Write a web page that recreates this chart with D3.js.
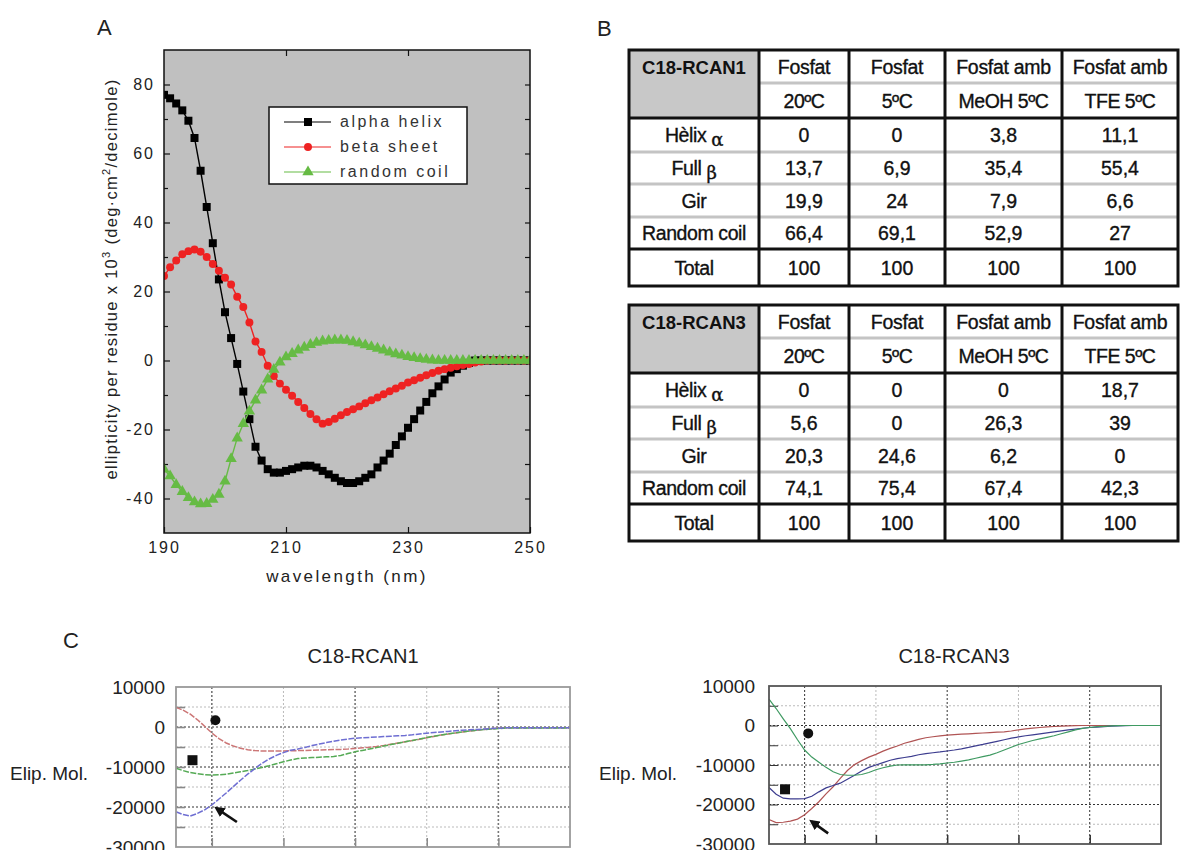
<!DOCTYPE html>
<meta charset="utf-8">
<head>
<script src="https://d3js.org/d3.v7.min.js"></script>
<style>
  body { margin: 0; background: #fff; }
  svg text { font-family: "Liberation Sans", Arial, sans-serif; }
</style>
</head>
<body>
<svg id="fig" width="1180" height="850"></svg>
<script>
// ---------- panel A : reference CD spectra (x10^3) ----------
const wlA = d3.range(190, 251);
const alphaHelix = [77,76,74.5,72.5,69.5,64.5,55,44.5,34,23.5,14,6.5,-1,-9,-17,-25,-29,-31.5,-32.5,-32.5,
  -32,-31.5,-31,-30.5,-30.5,-31,-32,-33,-34,-35,-35.5,-35.5,-35,-34,-33,-31,-29,-27,-24.5,-22,
  -19.5,-17,-14.5,-12,-9.5,-7.5,-5.5,-3.5,-2.5,-1.5,-0.7,0,0,0,0,0,0,0,0,0,0];
const betaSheet = [24.5,27,29,30.8,31.7,32.2,31.5,30,28,26,24,22,18.5,15.5,11,5.5,2.5,-1.5,-4.5,-6.7,
  -8.5,-10.2,-12,-13.8,-15.5,-17,-18.3,-17.8,-16.9,-15.9,-14.9,-14.1,-13.3,-12.4,-11.5,-10.7,-9.8,-8.9,-8.1,-7.3,
  -6.4,-5.7,-5,-4.3,-3.6,-3,-2.5,-2.1,-1.7,-1.3,-1,-0.6,-0.3,0,0,0,0,0,0,0,0];
const randomCoil = [-31.5,-33.5,-36,-38,-39.8,-41,-41.6,-41.5,-40.3,-38.8,-35,-28.5,-22.5,-18.3,-14.7,-11.5,-8.6,-5.4,-2.6,-0.5,
  1,2,3,3.8,4.6,5.2,5.6,5.8,5.9,5.9,5.8,5.4,5,4.5,4,3.5,3,2.4,1.9,1.5,
  1.1,0.8,0.5,0.3,0.1,0,0,0,0,0,0,0,0,0,0,0,0,0,0,0,0];
const seriesNames = ["alpha helix", "beta sheet", "random coil"];
const yTicksA = [-40, -20, 0, 20, 40, 60, 80];
const xTicksA = [190, 210, 230, 250];

// ---------- panel B : secondary structure tables ----------
const colHead1 = ["Fosfat", "Fosfat", "Fosfat amb", "Fosfat amb"];
const colHead2 = ["20ºC", "5ºC", "MeOH 5ºC", "TFE 5ºC"];
const rowLabels = [["Hèlix ", "α"], ["Full ", "β"], ["Gir", ""], ["Random coil", ""], ["Total", ""]];
const rcan1Table = [["0","0","3,8","11,1"], ["13,7","6,9","35,4","55,4"], ["19,9","24","7,9","6,6"],
  ["66,4","69,1","52,9","27"], ["100","100","100","100"]];
const rcan3Table = [["0","0","0","18,7"], ["5,6","0","26,3","39"], ["20,3","24,6","6,2","0"],
  ["74,1","75,4","67,4","42,3"], ["100","100","100","100"]];

// ---------- panel C : measured spectra ----------
const wlC = d3.range(195, 251);
const rcan1Red = [4900,4200,3200,1800,200,-1500,-2900,-4000,-4750,-5300,-5700,-5900,-6000,-6000,-6000,-6000,-5950,-5900,-5850,-5800,
  -5750,-5700,-5650,-5600,-5500,-5350,-5200,-5050,-4850,-4600,-4300,-4000,-3700,-3400,-3050,-2700,-2350,-2000,-1750,-1500,
  -1250,-1000,-800,-600,-450,-300,-200,-200,-200,-200,-200,-200,-200,-200,-200,-200];
const rcan1Green = [-10300,-10900,-11400,-11700,-11900,-12000,-11950,-11800,-11500,-11200,-10900,-10500,-10100,-9700,-9200,-8700,-8250,-7900,-7750,-7650,
  -7550,-7450,-7400,-7100,-6650,-6200,-5850,-5500,-5150,-4750,-4400,-4050,-3700,-3350,-3000,-2650,-2300,-2000,-1700,-1450,
  -1200,-1000,-800,-650,-500,-400,-250,-250,-250,-250,-250,-250,-250,-250,-250,-250];
const rcan1Blue = [-21200,-21900,-22250,-21600,-20700,-19500,-18000,-16500,-14900,-13300,-11800,-10400,-9100,-8000,-7100,-6400,-5800,-5500,-5100,-4650,
  -4250,-3900,-3550,-3250,-3000,-2800,-2700,-2600,-2500,-2400,-2300,-2200,-2100,-1950,-1750,-1550,-1400,-1250,-1100,-950,
  -800,-700,-600,-500,-400,-300,-200,-200,-200,-200,-200,-200,-200,-200,-200,-200];
const rcan3Red = [-23800,-24600,-24500,-24200,-23700,-22600,-21000,-19300,-17300,-15500,-13400,-11400,-9900,-8900,-8000,-7300,-6500,-5800,-5200,-4500,
  -4000,-3500,-3100,-2850,-2650,-2450,-2300,-2200,-2100,-2000,-1900,-1800,-1700,-1600,-1400,-1100,-850,-650,-500,-350,
  -250,-150,-100,-50,0,0,0,0,0,0,0,0,0,0,0,0];
const rcan3Green = [6700,4300,1700,-800,-3600,-6200,-8000,-9300,-10600,-11700,-12400,-12600,-12600,-12400,-11900,-11200,-10700,-10300,-10000,-9950,
  -9950,-9950,-9950,-9850,-9700,-9500,-9300,-9000,-8700,-8300,-7900,-7500,-6900,-6200,-5500,-4800,-4300,-3800,-3400,-3000,
  -2600,-2100,-1600,-1100,-750,-500,-300,-200,-100,-50,0,0,0,0,0,0];
const rcan3Blue = [-15700,-17400,-18400,-18600,-18600,-18500,-17900,-16800,-15800,-15200,-14600,-13600,-12600,-11500,-10600,-10000,-9400,-8800,-8400,-8100,
  -7800,-7400,-7100,-6900,-6700,-6450,-6200,-5900,-5550,-5150,-4800,-4400,-4000,-3600,-3200,-2900,-2600,-2350,-2100,-1850,
  -1600,-1350,-1100,-900,-700,-500,-400,-300,-150,-80,-30,0,0,0,0,0];
const yTicksC = [10000, 0, -10000, -20000, -30000];
const gridYC = [5000, 0, -5000, -10000, -15000, -20000, -25000];
const gridXC = [200, 210, 220, 230, 240];
// annotation marks (wavelength, ellipticity)
const rcan1Circle = [200.5, 1700], rcan1Square = [197.3, -8300], rcan1Arrow = [[203.5, -23750], [200.7, -20400]];
const rcan3Circle = [200.5, -2000], rcan3Square = [197.25, -16150], rcan3Arrow = [[203.3, -27300], [201, -24350]];

const svg = d3.select("#fig");
const font = "'Liberation Sans', Arial, sans-serif";

svg.append("defs").append("marker")
  .attr("id", "arrowhead").attr("viewBox", "0 0 10 10")
  .attr("refX", 7).attr("refY", 5)
  .attr("markerWidth", 4).attr("markerHeight", 4)
  .attr("orient", "auto")
  .append("path").attr("d", "M0,0 L10,5 L0,10 z").attr("fill", "#111");

// ===== Panel A =====
const xA = d3.scaleLinear().domain([190, 250]).range([164, 530]);
const yA = d3.scaleLinear().domain([-50, 90]).range([533, 50]);
const gA = svg.append("g");

svg.append("text").attr("x", 97).attr("y", 35).attr("font-size", 22).attr("fill", "#222").text("A");

gA.append("rect")
  .attr("x", xA(190)).attr("y", yA(90))
  .attr("width", xA(250) - xA(190)).attr("height", yA(-50) - yA(90))
  .attr("fill", "#c0c0c0");

svg.append("clipPath").attr("id", "clipA").append("rect")
  .attr("x", xA(190)).attr("y", yA(90))
  .attr("width", xA(250) - xA(190)).attr("height", yA(-50) - yA(90));

function styleAxis(g) {
  g.select(".domain").remove();
  g.selectAll("line").attr("stroke", "#111").attr("stroke-width", 1.2);
  g.selectAll("text").attr("font-size", 16).attr("letter-spacing", 2).attr("fill", "#222")
    .attr("font-family", font);
}

const fmt = d => String(d);
gA.append("g").attr("transform", `translate(${xA(190)},0)`)
  .call(d3.axisLeft(yA).tickValues(yTicksA).tickSizeInner(-6).tickSizeOuter(0).tickPadding(9).tickFormat(fmt))
  .call(styleAxis);
gA.append("g").attr("transform", `translate(${xA(190)},0)`)
  .call(d3.axisLeft(yA).tickValues([-30, -10, 10, 30, 50, 70]).tickSize(-4).tickFormat(""))
  .call(styleAxis);
gA.append("g").attr("transform", `translate(${xA(250)},0)`)
  .call(d3.axisRight(yA).tickValues(d3.range(-40, 90, 10)).tickSize(-5).tickFormat(""))
  .call(styleAxis);
gA.append("g").attr("transform", `translate(0,${yA(-50)})`)
  .call(d3.axisBottom(xA).tickValues(xTicksA).tickSizeInner(-6).tickSizeOuter(0).tickPadding(9).tickFormat(fmt))
  .call(styleAxis);
gA.append("g").attr("transform", `translate(0,${yA(90)})`)
  .call(d3.axisTop(xA).tickValues([210, 230]).tickSize(-6).tickFormat(""))
  .call(styleAxis);

const refSeries = [
  { name: seriesNames[0], values: alphaHelix, color: "#000000", symbol: d3.symbolSquare, size: 64 },
  { name: seriesNames[1], values: betaSheet, color: "#ee2222", symbol: d3.symbolCircle, size: 50 },
  { name: seriesNames[2], values: randomCoil, color: "#66bb44", symbol: d3.symbolTriangle, size: 56 }
];

const lineA = d3.line().x((d, i) => xA(wlA[i])).y(d => yA(d));
const plotA = gA.append("g").attr("clip-path", "url(#clipA)");
refSeries.forEach(s => {
  plotA.append("path").attr("d", lineA(s.values))
    .attr("fill", "none").attr("stroke", s.color).attr("stroke-width", 1.4);
  plotA.append("g").selectAll("path").data(s.values).join("path")
    .attr("transform", (d, i) => `translate(${xA(wlA[i])},${yA(d)})`)
    .attr("d", d3.symbol(s.symbol, s.size))
    .attr("fill", s.color);
});

gA.append("rect")
  .attr("x", xA(190)).attr("y", yA(90))
  .attr("width", xA(250) - xA(190)).attr("height", yA(-50) - yA(90))
  .attr("fill", "none").attr("stroke", "#111").attr("stroke-width", 1.5);

// legend
const leg = gA.append("g").attr("transform", "translate(269,107)");
leg.append("rect").attr("width", 198).attr("height", 77)
  .attr("fill", "#fff").attr("stroke", "#111").attr("stroke-width", 1.5);
refSeries.forEach((s, i) => {
  const cy = 15 + i * 25;
  leg.append("line").attr("x1", 15).attr("x2", 62).attr("y1", cy).attr("y2", cy)
    .attr("stroke", s.color).attr("stroke-width", 1.2);
  leg.append("path").attr("transform", `translate(39,${cy})`)
    .attr("d", d3.symbol(s.symbol, s.size)).attr("fill", s.color);
  leg.append("text").attr("x", 71).attr("y", cy + 5).attr("font-size", 16)
    .attr("letter-spacing", 2.5).attr("fill", "#333").text(s.name);
});

// axis titles
const yLab = gA.append("text")
  .attr("transform", "translate(117,279) rotate(-90)")
  .attr("text-anchor", "middle").attr("font-size", 16.5).attr("letter-spacing", 1.3).attr("fill", "#222");
yLab.append("tspan").text("ellipticity per residue x 10");
yLab.append("tspan").attr("dy", -7).attr("font-size", 11).text("3");
yLab.append("tspan").attr("dy", 7).text(" (deg·cm");
yLab.append("tspan").attr("dy", -7).attr("font-size", 11).text("2");
yLab.append("tspan").attr("dy", 7).text("/decimole)");

gA.append("text").attr("x", (xA(190) + xA(250)) / 2).attr("y", 582)
  .attr("text-anchor", "middle").attr("font-size", 17).attr("letter-spacing", 2.4)
  .attr("fill", "#222").text("wavelength (nm)");

// ===== Panel B =====
svg.append("text").attr("x", 597).attr("y", 36).attr("font-size", 22).attr("fill", "#222").text("B");

const colX = [629, 759, 849, 945, 1062, 1178];
const rowY = [0, 33, 68, 102, 134, 167, 199, 236];

function drawTable(top, title, values) {
  const g = svg.append("g").attr("transform", `translate(0,${top})`);
  g.append("rect").attr("x", colX[0]).attr("y", rowY[0])
    .attr("width", colX[1] - colX[0]).attr("height", rowY[2] - rowY[0]).attr("fill", "#c8c8c8");
  // thin gray separators
  g.append("line").attr("x1", colX[1]).attr("x2", colX[5]).attr("y1", rowY[1]).attr("y2", rowY[1])
    .attr("stroke", "#c4c4c4").attr("stroke-width", 3);
  [3, 4, 5].forEach(r => g.append("line").attr("x1", colX[0]).attr("x2", colX[5])
    .attr("y1", rowY[r]).attr("y2", rowY[r]).attr("stroke", "#c4c4c4").attr("stroke-width", 3));
  // black rules
  [2, 6].forEach(r => g.append("line").attr("x1", colX[0]).attr("x2", colX[5])
    .attr("y1", rowY[r]).attr("y2", rowY[r]).attr("stroke", "#111").attr("stroke-width", 3));
  colX.slice(1, 5).forEach(x => g.append("line").attr("x1", x).attr("x2", x)
    .attr("y1", rowY[0]).attr("y2", rowY[7]).attr("stroke", "#111").attr("stroke-width", 3));
  g.append("rect").attr("x", colX[0]).attr("y", rowY[0])
    .attr("width", colX[5] - colX[0]).attr("height", rowY[7] - rowY[0])
    .attr("fill", "none").attr("stroke", "#111").attr("stroke-width", 3);

  const cx = i => (colX[i] + colX[i + 1]) / 2;
  const cy = r => (rowY[r] + rowY[r + 1]) / 2 + 7;
  const txt = (x, y, s) => g.append("text").attr("x", x).attr("y", y)
    .attr("text-anchor", "middle").attr("font-size", 19.5).attr("fill", "#111")
    .attr("stroke", "#111").attr("stroke-width", 0.35).text(s);

  txt(cx(0), cy(0), title).attr("font-weight", "bold").attr("font-size", 18.5).attr("stroke-width", 0);
  colHead1.forEach((s, i) => txt(cx(i + 1), cy(0), s).attr("letter-spacing", -0.3));
  colHead2.forEach((s, i) => txt(cx(i + 1), cy(1), s).attr("letter-spacing", -0.5));
  rowLabels.forEach((lab, r) => {
    const t = txt(cx(0), cy(r + 2), null).attr("letter-spacing", -0.4);
    t.append("tspan").text(lab[0]);
    if (lab[1]) t.append("tspan").attr("dy", 4).attr("font-family", "'DejaVu Serif', serif")
      .attr("font-size", 18).text(lab[1]);
    values[r].forEach((v, c) => txt(cx(c + 1), cy(r + 2), v));
  });
}
drawTable(50, "C18-RCAN1", rcan1Table);
drawTable(305, "C18-RCAN3", rcan3Table);

// ===== Panel C =====
svg.append("text").attr("x", 63).attr("y", 648).attr("font-size", 22).attr("fill", "#222").text("C");

function drawCD(x, y, o) {
  const g = svg.append("g");
  const [x0, x1] = x.range(), [y0, y1] = y.range();

  g.append("text").attr("x", o.titleX).attr("y", 663).attr("text-anchor", "middle")
    .attr("font-size", 20).attr("fill", "#222").text(o.title);
  g.append("text").attr("x", o.labelX).attr("y", 780).attr("font-size", 19)
    .attr("fill", "#222").text("Elip. Mol.");

  // grid
  g.selectAll(".gy").data(gridYC).join("line")
    .attr("x1", x0).attr("x2", x1).attr("y1", d => y(d)).attr("y2", d => y(d))
    .attr("stroke", d => d % 10000 === 0 ? o.gridDark : "#bbb")
    .attr("stroke-width", d => d % 10000 === 0 ? o.gridW : 1)
    .attr("stroke-dasharray", "2,2");
  g.selectAll(".gx").data(gridXC).join("line")
    .attr("x1", d => x(d)).attr("x2", d => x(d)).attr("y1", y1).attr("y2", y0)
    .attr("stroke", d => d % 20 === 0 ? o.gridDark : "#bbb")
    .attr("stroke-width", d => d % 20 === 0 ? o.gridW : 1)
    .attr("stroke-dasharray", "2,2");

  // ticks
  g.append("g").attr("transform", `translate(${x0},0)`)
    .call(d3.axisLeft(y).tickValues(gridYC).tickSize(-9).tickFormat(""))
    .call(a => { a.select(".domain").remove(); a.selectAll("line").attr("stroke", o.tickColor).attr("stroke-width", o.gridW); });
  g.append("g").attr("transform", `translate(0,${y0})`)
    .call(d3.axisBottom(x).tickValues(gridXC).tickSize(-9).tickFormat(""))
    .call(a => { a.select(".domain").remove(); a.selectAll("line").attr("stroke", o.tickColor).attr("stroke-width", 1.5); });
  g.append("g").attr("transform", `translate(${x0},0)`)
    .call(d3.axisLeft(y).tickValues(yTicksC).tickSize(0).tickPadding(o.pad).tickFormat(fmt))
    .call(a => {
      a.select(".domain").remove();
      a.selectAll("text").attr("font-size", 19).attr("fill", "#222").attr("font-family", font);
    });

  const line = d3.line().x((d, i) => x(wlC[i])).y(d => y(d));
  o.series.forEach(s => g.append("path").attr("d", line(s.values))
    .attr("fill", "none").attr("stroke", s.color).attr("stroke-width", o.lineW)
    .attr("stroke-dasharray", o.dash));

  g.append("rect").attr("x", x0).attr("y", y1).attr("width", x1 - x0).attr("height", y0 - y1)
    .attr("fill", "none").attr("stroke", o.frame).attr("stroke-width", 1.8);

  // annotation marks
  g.append("circle").attr("cx", x(o.circle[0])).attr("cy", y(o.circle[1])).attr("r", 5).attr("fill", "#111");
  g.append("rect").attr("x", x(o.square[0]) - 5).attr("y", y(o.square[1]) - 5)
    .attr("width", 10).attr("height", 10).attr("fill", "#111");
  g.append("line")
    .attr("x1", x(o.arrow[0][0])).attr("y1", y(o.arrow[0][1]))
    .attr("x2", x(o.arrow[1][0])).attr("y2", y(o.arrow[1][1]))
    .attr("stroke", "#111").attr("stroke-width", 2.6).attr("marker-end", "url(#arrowhead)");
}

drawCD(d3.scaleLinear().domain([195, 250]).range([176, 570]),
  d3.scaleLinear().domain([-30000, 10000]).range([847, 687]),
  { title: "C18-RCAN1", titleX: 363, labelX: 10, pad: 11,
    gridDark: "#777", gridW: 1.6, tickColor: "#888", frame: "#999", lineW: 1.5, dash: "6,1.5",
    series: [{ values: rcan1Red, color: "#cc7676" }, { values: rcan1Green, color: "#55aa55" },
             { values: rcan1Blue, color: "#6e6ed2" }],
    circle: rcan1Circle, square: rcan1Square, arrow: rcan1Arrow });

drawCD(d3.scaleLinear().domain([195, 250]).range([769, 1161]),
  d3.scaleLinear().domain([-30000, 10000]).range([844, 686]),
  { title: "C18-RCAN3", titleX: 954, labelX: 599, pad: 14,
    gridDark: "#333", gridW: 1, tickColor: "#333", frame: "#555", lineW: 1.2, dash: null,
    series: [{ values: rcan3Red, color: "#b05454" }, { values: rcan3Blue, color: "#3d3d8f" },
             { values: rcan3Green, color: "#3f9a62" }],
    circle: rcan3Circle, square: rcan3Square, arrow: rcan3Arrow });
</script>
</body>
